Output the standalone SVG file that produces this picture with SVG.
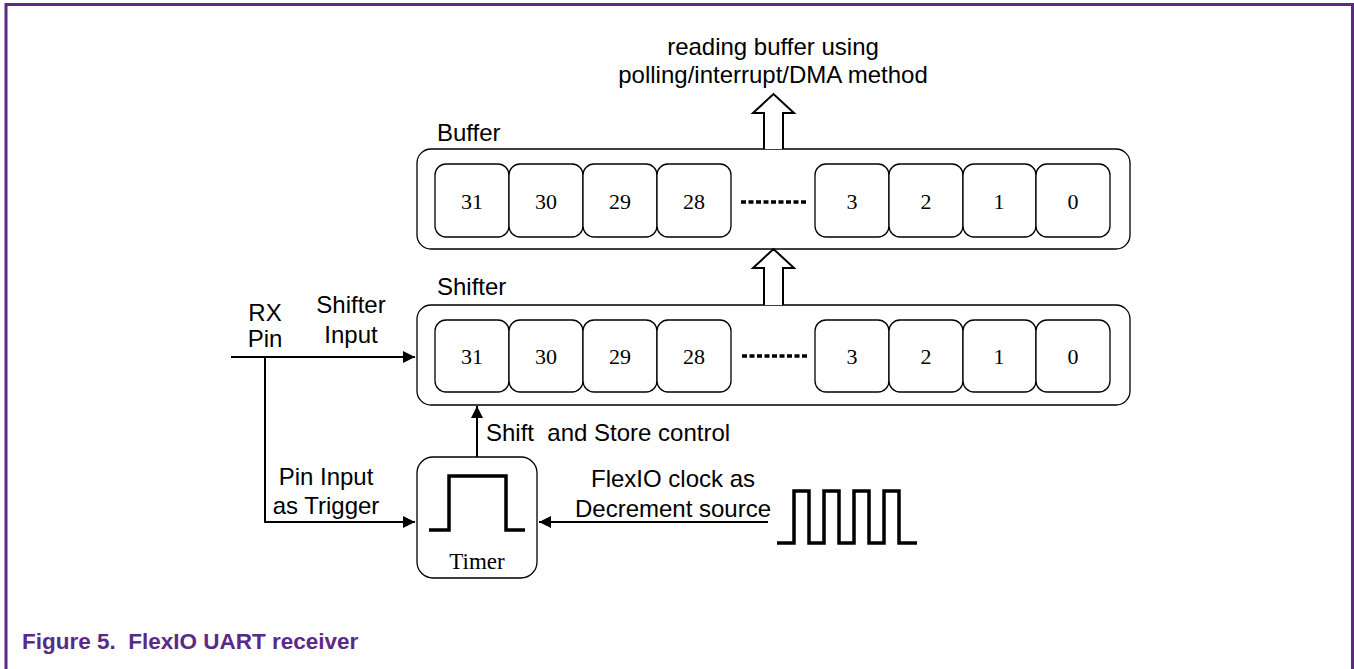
<svg xmlns="http://www.w3.org/2000/svg" width="1354" height="669" viewBox="0 0 1354 669">
<defs>
<style>
.frame{stroke:#5b2a86;stroke-width:3;fill:none}
.box{fill:#fff;stroke:#000;stroke-width:1.3}
.cell{fill:#fff;stroke:#000;stroke-width:1.3}
.num{font-family:"Liberation Serif",serif;font-size:22px;text-anchor:middle;fill:#000}
.lbl{font-family:"Liberation Sans",Arial,sans-serif;font-size:24px;fill:#000;white-space:pre}
.mid{text-anchor:middle}
.wire{stroke:#000;stroke-width:2;fill:none}
.dots{stroke:#000;stroke-width:3.5;stroke-dasharray:5 2.5;fill:none}
.pulse{stroke:#000;stroke-width:3.5;fill:none;stroke-linejoin:miter}
.hollow{fill:#fff;stroke:#000;stroke-width:2}
.cap{font-family:"Liberation Sans",Arial,sans-serif;font-size:22.5px;font-weight:bold;fill:#5b2a86;white-space:pre}
</style>
<marker id="ah" markerWidth="12" markerHeight="12" viewBox="0 0 12 12" refX="12" refY="6" orient="auto" markerUnits="userSpaceOnUse">
<path d="M0,0 L12,6 L0,12 Z" fill="#000"/>
</marker>
</defs>
<rect width="1354" height="669" fill="#fff"/>
<path class="frame" d="M6,669 V4.5 H1352.5 V669"/>

<g id="buffer">
<text class="lbl" x="437" y="141">Buffer</text>
<rect class="box" x="417" y="149" width="713" height="100" rx="14"/>
<rect class="cell" x="435" y="164" width="74" height="73" rx="11"/>
<rect class="cell" x="509" y="164" width="74" height="73" rx="11"/>
<rect class="cell" x="583" y="164" width="74" height="73" rx="11"/>
<rect class="cell" x="657" y="164" width="74" height="73" rx="11"/>
<rect class="cell" x="815" y="164" width="74" height="73" rx="11"/>
<rect class="cell" x="889" y="164" width="74" height="73" rx="11"/>
<rect class="cell" x="963" y="164" width="73" height="73" rx="11"/>
<rect class="cell" x="1036" y="164" width="74" height="73" rx="11"/>
<text class="num" x="472" y="209">31</text>
<text class="num" x="546" y="209">30</text>
<text class="num" x="620" y="209">29</text>
<text class="num" x="694" y="209">28</text>
<text class="num" x="852" y="209">3</text>
<text class="num" x="926" y="209">2</text>
<text class="num" x="999" y="209">1</text>
<text class="num" x="1073" y="209">0</text>
<path class="dots" d="M741,202 H807"/>
</g>

<g id="shifter">
<text class="lbl" x="437" y="295">Shifter</text>
<rect class="box" x="417" y="305" width="713" height="100" rx="14"/>
<rect class="cell" x="435" y="320" width="74" height="72" rx="11"/>
<rect class="cell" x="509" y="320" width="74" height="72" rx="11"/>
<rect class="cell" x="583" y="320" width="74" height="72" rx="11"/>
<rect class="cell" x="657" y="320" width="74" height="72" rx="11"/>
<rect class="cell" x="815" y="320" width="74" height="72" rx="11"/>
<rect class="cell" x="889" y="320" width="74" height="72" rx="11"/>
<rect class="cell" x="963" y="320" width="73" height="72" rx="11"/>
<rect class="cell" x="1036" y="320" width="74" height="72" rx="11"/>
<text class="num" x="472" y="364">31</text>
<text class="num" x="546" y="364">30</text>
<text class="num" x="620" y="364">29</text>
<text class="num" x="694" y="364">28</text>
<text class="num" x="852" y="364">3</text>
<text class="num" x="926" y="364">2</text>
<text class="num" x="999" y="364">1</text>
<text class="num" x="1073" y="364">0</text>
<path class="dots" d="M742,356 H807"/>
</g>

<g id="timer">
<rect class="box" x="417" y="457" width="120" height="121" rx="16"/>
<path class="pulse" d="M429,530 H449 V476 H506 V530 H525"/>
<text class="num" x="477" y="569" style="font-size:23px">Timer</text>
</g>

<g id="clock">
<path class="pulse" d="M777,543 H794 V491 H809 V543 H824 V491 H839 V543 H854 V491 H869 V543 H884 V491 H899 V543 H917"/>
</g>

<g id="connectors">
<path class="hollow" d="M764,149 V113 H753 L773.5,94 L794,113 H783 V149"/>
<path class="hollow" d="M764,305 V268 H753 L773.5,249 L794,268 H783 V305"/>
<path class="wire" d="M231,357 H415" marker-end="url(#ah)"/>
<path class="wire" d="M265,357 V522 H415" marker-end="url(#ah)"/>
<path class="wire" d="M477,457 V406" marker-end="url(#ah)"/>
<path class="wire" d="M768,522 H539" marker-end="url(#ah)"/>
</g>

<g id="labels">
<text class="lbl mid" x="773" y="55">reading buffer using</text>
<text class="lbl mid" x="773" y="83">polling/interrupt/DMA method</text>
<text class="lbl mid" x="265" y="321">RX</text>
<text class="lbl mid" x="265" y="347">Pin</text>
<text class="lbl mid" x="351" y="313">Shifter</text>
<text class="lbl mid" x="351" y="343">Input</text>
<text class="lbl" x="486" y="441">Shift  and Store control</text>
<text class="lbl mid" x="326" y="485">Pin Input</text>
<text class="lbl mid" x="326" y="514">as Trigger</text>
<text class="lbl mid" x="673" y="487">FlexIO clock as</text>
<text class="lbl mid" x="673" y="517">Decrement source</text>
</g>

<text class="cap" x="22" y="649">Figure 5.  FlexIO UART receiver</text>
</svg>
